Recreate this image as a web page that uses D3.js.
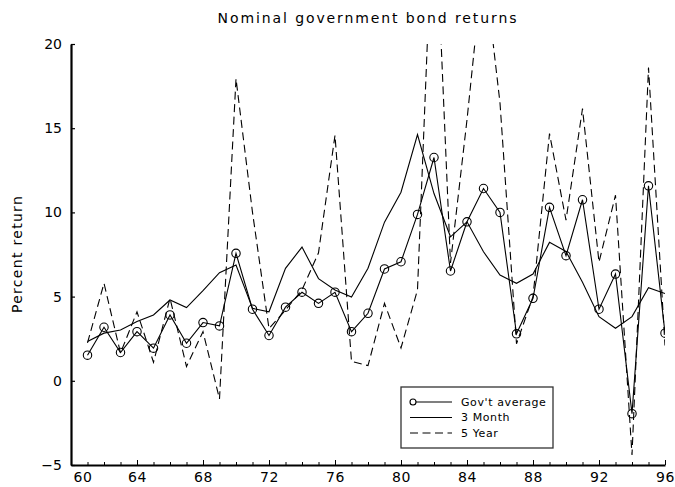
<!DOCTYPE html>
<html>
<head>
<meta charset="utf-8">
<script src="https://cdn.jsdelivr.net/npm/d3@7"></script>
<style>
  body { margin: 0; background: #fff; }
  svg { display: block; }
  text { font-family: "DejaVu Sans", sans-serif; fill: #000; }
</style>
</head>
<body>
<svg id="chart" width="675" height="487"></svg>
<script>
// Annual nominal returns (percent) on US government bonds
const years = [1961, 1962, 1963, 1964, 1965, 1966, 1967, 1968, 1969, 1970,
               1971, 1972, 1973, 1974, 1975, 1976, 1977, 1978, 1979, 1980,
               1981, 1982, 1983, 1984, 1985, 1986, 1987, 1988, 1989, 1990,
               1991, 1992, 1993, 1994, 1995, 1996];

const govAverage = [1.52, 3.18, 1.68, 2.92, 1.94, 3.91, 2.23, 3.46, 3.26, 7.57,
                    4.25, 2.69, 4.37, 5.26, 4.60, 5.26, 2.92, 4.01, 6.64, 7.07,
                    9.88, 13.26, 6.52, 9.44, 11.42, 10.00, 2.79, 4.90, 10.30, 7.43,
                    10.75, 4.25, 6.34, -1.95, 11.58, 2.83];

const threeMonth = [2.33, 2.83, 3.02, 3.52, 3.91, 4.80, 4.35, 5.35, 6.42, 6.88,
                    4.30, 4.10, 6.68, 7.94, 6.07, 5.39, 4.98, 6.68, 9.42, 11.20,
                    14.62, 11.12, 8.55, 9.44, 7.66, 6.28, 5.79, 6.34, 8.22, 7.68,
                    5.85, 3.81, 3.12, 3.81, 5.53, 5.18];

const fiveYear = [2.25, 5.79, 1.65, 4.10, 1.10, 4.90, 0.85, 2.92, -1.08, 17.94,
                  10.00, 3.10, 4.20, 5.40, 7.60, 14.58, 1.15, 0.90, 4.60, 1.95,
                  5.40, 30.00, 7.00, 15.50, 25.00, 16.50, 2.20, 5.00, 14.68, 9.54,
                  16.16, 7.05, 11.02, -4.40, 18.60, 2.10];

const xMajorTicks = [1960, 1964, 1968, 1972, 1976, 1980, 1984, 1988, 1992, 1996];
const xTickLabels = ["60", "64", "68", "72", "76", "80", "84", "88", "92", "96"];
const yTicks = [-5, 0, 5, 10, 15, 20];
const yTickLabels = ["\u22125", "0", "5", "10", "15", "20"];

const legendLabels = ["Gov't average", "3 Month", "5 Year"];
const titleText = "Nominal government bond returns";
const yTitleText = "Percent return";

const svg = d3.select("#chart");
const plotLeft = 71, plotRight = 665, plotTop = 44, plotBottom = 465;

const x = d3.scaleLinear().domain([1960, 1996]).range([plotLeft, plotRight]);
const y = d3.scaleLinear().domain([-5, 20]).range([plotBottom, plotTop]);

// plotting window; lines leaving it are cut at the frame
svg.append("defs").append("clipPath").attr("id", "plotArea")
  .append("rect").attr("x", plotLeft).attr("y", plotTop)
  .attr("width", plotRight - plotLeft).attr("height", plotBottom - plotTop);

// title
svg.append("text")
  .attr("x", 368).attr("y", 23)
  .attr("text-anchor", "middle")
  .style("font-size", "14px").style("letter-spacing", "1.9px")
  .text(titleText);

// y axis title
svg.append("text")
  .attr("transform", "translate(22,254) rotate(-90)")
  .attr("text-anchor", "middle")
  .style("font-size", "14px").style("letter-spacing", "1.3px")
  .text(yTitleText);

// y axis
const yAxis = svg.append("g").attr("transform", `translate(${plotLeft},0)`)
  .call(d3.axisLeft(y).tickValues(yTicks).tickSize(-4).tickSizeOuter(0)
        .tickPadding(9).tickFormat((d, i) => yTickLabels[i]));
yAxis.select(".domain").attr("stroke-width", 2.2);
yAxis.selectAll(".tick line").attr("stroke-width", 1.2);
yAxis.selectAll(".tick text").style("font-size", "14px").attr("font-family", null);

// x axis: minor ticks every year
const xMinor = svg.append("g").attr("transform", `translate(0,${plotBottom})`)
  .call(d3.axisBottom(x).tickValues(d3.range(1960, 1997)).tickSize(-3)
        .tickSizeOuter(0).tickFormat(""));
xMinor.select(".domain").attr("stroke-width", 2.2);
xMinor.selectAll(".tick line").attr("stroke-width", 1);

// x axis: labelled ticks
const xAxis = svg.append("g").attr("transform", `translate(0,${plotBottom})`)
  .call(d3.axisBottom(x).tickValues(xMajorTicks).tickSize(-5).tickSizeOuter(0)
        .tickPadding(7).tickFormat((d, i) => xTickLabels[i]));
xAxis.select(".domain").remove();
xAxis.selectAll(".tick line").attr("stroke-width", 1);
xAxis.selectAll(".tick text").style("font-size", "14px").attr("font-family", null)
  .style("letter-spacing", "0.5px");
xAxis.select(".tick text").attr("text-anchor", "start").attr("x", 2);

const series = years.map((yr, i) => ({ yr, avg: govAverage[i], m3: threeMonth[i], y5: fiveYear[i] }));

const plot = svg.append("g").attr("clip-path", "url(#plotArea)");

const lineOf = key => d3.line().x(d => x(d.yr)).y(d => y(d[key]));

plot.append("path").datum(series)
  .attr("d", lineOf("y5")).attr("fill", "none").attr("stroke", "#000")
  .attr("stroke-width", 1.1).attr("stroke-dasharray", "8,4.5");

plot.append("path").datum(series)
  .attr("d", lineOf("m3")).attr("fill", "none").attr("stroke", "#000")
  .attr("stroke-width", 1.1);

plot.append("path").datum(series)
  .attr("d", lineOf("avg")).attr("fill", "none").attr("stroke", "#000")
  .attr("stroke-width", 1.1);

plot.selectAll("circle.avg").data(series).join("circle")
  .attr("class", "avg")
  .attr("cx", d => x(d.yr)).attr("cy", d => y(d.avg)).attr("r", 4.2)
  .attr("fill", "none").attr("stroke", "#000").attr("stroke-width", 1.1);

// legend
const lg = svg.append("g");
lg.append("rect").attr("x", 401).attr("y", 387).attr("width", 152).attr("height", 61)
  .attr("fill", "#fff").attr("stroke", "#333").attr("stroke-width", 1.3);

const legendRows = [402, 417.5, 433];
const styles = [
  { dash: null, marker: true },
  { dash: null, marker: false },
  { dash: "8,4.5", marker: false }
];
legendLabels.forEach((lab, i) => {
  const ry = legendRows[i];
  lg.append("line").attr("x1", 410).attr("x2", 452).attr("y1", ry).attr("y2", ry)
    .attr("stroke", "#000").attr("stroke-width", 1.1)
    .attr("stroke-dasharray", styles[i].dash);
  if (styles[i].marker) {
    lg.append("circle").attr("cx", 413).attr("cy", ry).attr("r", 3)
      .attr("fill", "#fff").attr("stroke", "#000").attr("stroke-width", 1.1);
  }
  lg.append("text").attr("x", 461).attr("y", ry).attr("dy", "0.36em")
    .style("font-size", "11px").style("letter-spacing", "0.6px")
    .text(lab);
});
</script>
</body>
</html>
